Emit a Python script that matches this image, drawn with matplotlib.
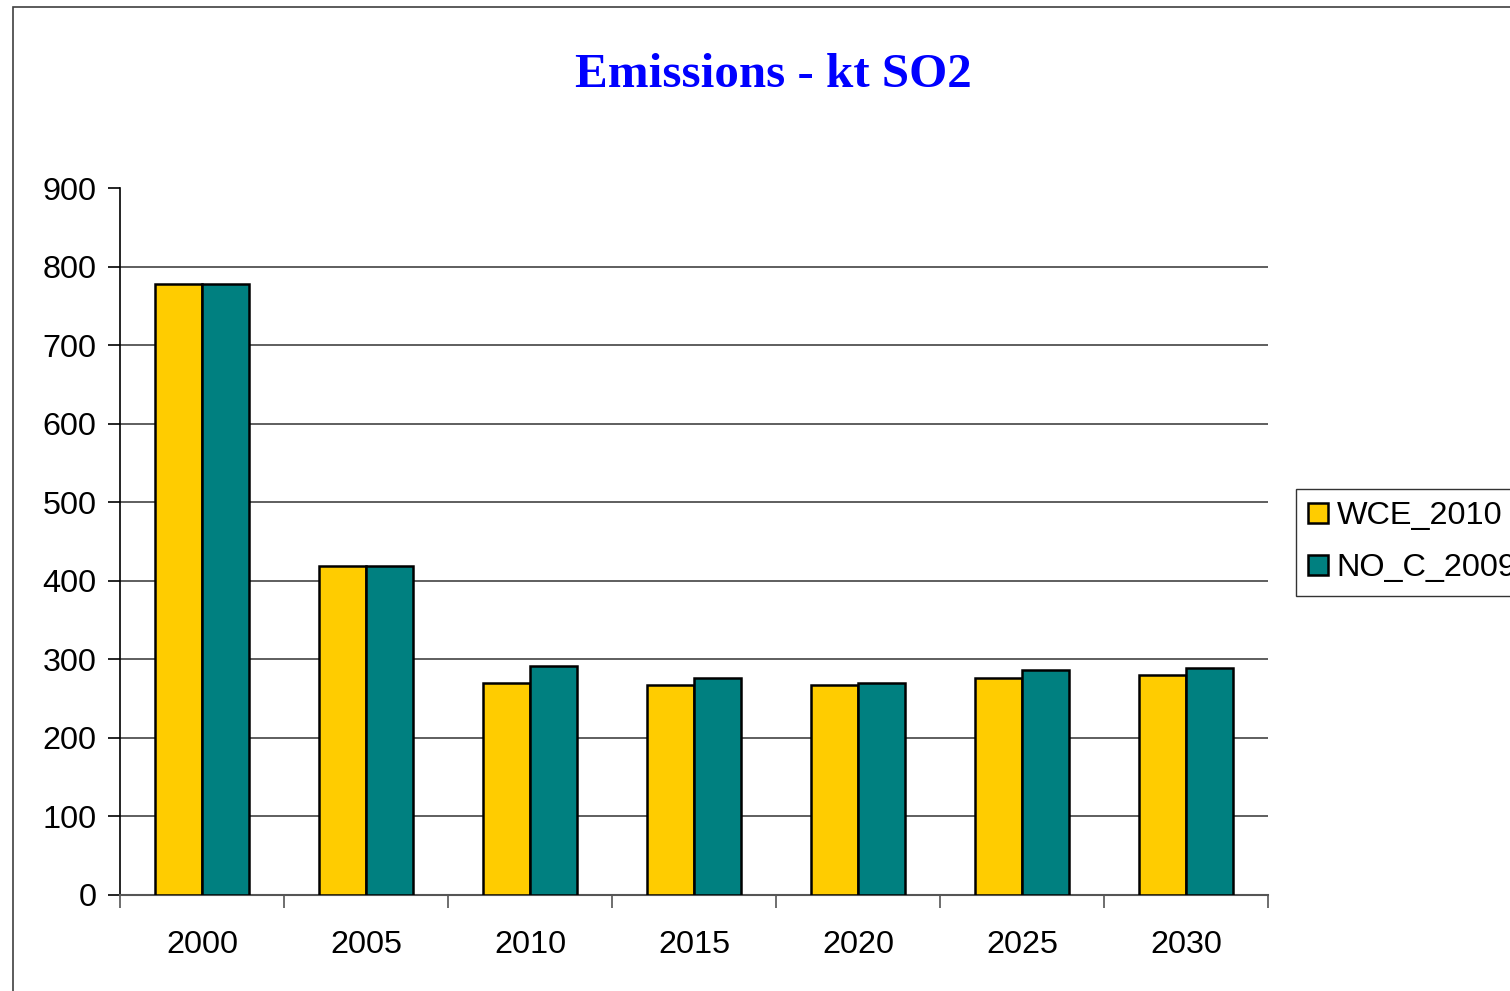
import numpy as np
import matplotlib
matplotlib.use("Agg")
import matplotlib.pyplot as plt
from matplotlib.patches import Rectangle

# data
years = ["2000", "2005", "2010", "2015", "2020", "2025", "2030"]
wce_2010 = [778, 419, 270, 267, 267, 276, 280]
no_c_2009 = [778, 419, 292, 276, 270, 286, 289]
yticks = [0, 100, 200, 300, 400, 500, 600, 700, 800, 900]

fig = plt.figure(figsize=(15.1, 9.91), dpi=100)
W, H = 1510, 991

# outer chart frame (runs off the right and bottom edge)
fig.patches.append(Rectangle((13 / W, -0.05), 1.1, 1 - 7 / H + 0.05,
                             transform=fig.transFigure, fill=False,
                             edgecolor="#404040", linewidth=1.2))

ax = fig.add_axes([120 / W, 1 - 895 / H, 1148 / W, 707 / H])

x = np.arange(len(years))
bw = 0.287
ax.bar(x - bw / 2, wce_2010, bw, color="#FFCC00", edgecolor="black",
       linewidth=1.8, label="WCE_2010", zorder=3)
ax.bar(x + bw / 2, no_c_2009, bw, color="#008080", edgecolor="black",
       linewidth=1.8, label="NO_C_2009", zorder=3)

ax.set_xlim(-0.5, len(years) - 0.5)
ax.set_ylim(0, 900)
ax.set_yticks(yticks)
ax.set_yticklabels([str(v) for v in yticks], fontsize=23.3, family="Liberation Sans")
ax.set_xticks(x)
ax.set_xticklabels(years, fontsize=23.3, family="Liberation Sans")
ax.set_xticks(np.arange(len(years) + 1) - 0.5, minor=True)
ax.tick_params(axis="x", which="major", length=0, pad=25)
ax.tick_params(axis="x", which="minor", length=9, width=1.2, color="#555555", direction="out")
ax.tick_params(axis="y", length=9, width=1.2, direction="out", pad=8)

for v in yticks[1:-1]:
    ax.axhline(v, color="#333333", linewidth=1.1, zorder=1)

for s in ["top", "right"]:
    ax.spines[s].set_visible(False)
ax.spines["left"].set_color("black")
ax.spines["left"].set_linewidth(1.2)
ax.spines["bottom"].set_color("#555555")
ax.spines["bottom"].set_linewidth(1.5)

fig.text(773 / W, 1 - 75 / H, "Emissions - kt SO2", ha="center", va="center",
         fontsize=35.3, fontweight="bold", color="#0000FF", family="Liberation Serif")

leg = ax.legend(loc="upper left", bbox_to_anchor=(1296 / W, 1 - 489 / H),
                bbox_transform=fig.transFigure, frameon=True, fancybox=False,
                prop={"family": "Liberation Sans", "size": 23.3},
                handlelength=0.6, handleheight=0.6, handletextpad=0.28,
                borderpad=0.38, labelspacing=0.68, borderaxespad=0)
leg.get_frame().set_edgecolor("black")
leg.get_frame().set_linewidth(1.0)

fig.savefig("out.png", dpi=100)
